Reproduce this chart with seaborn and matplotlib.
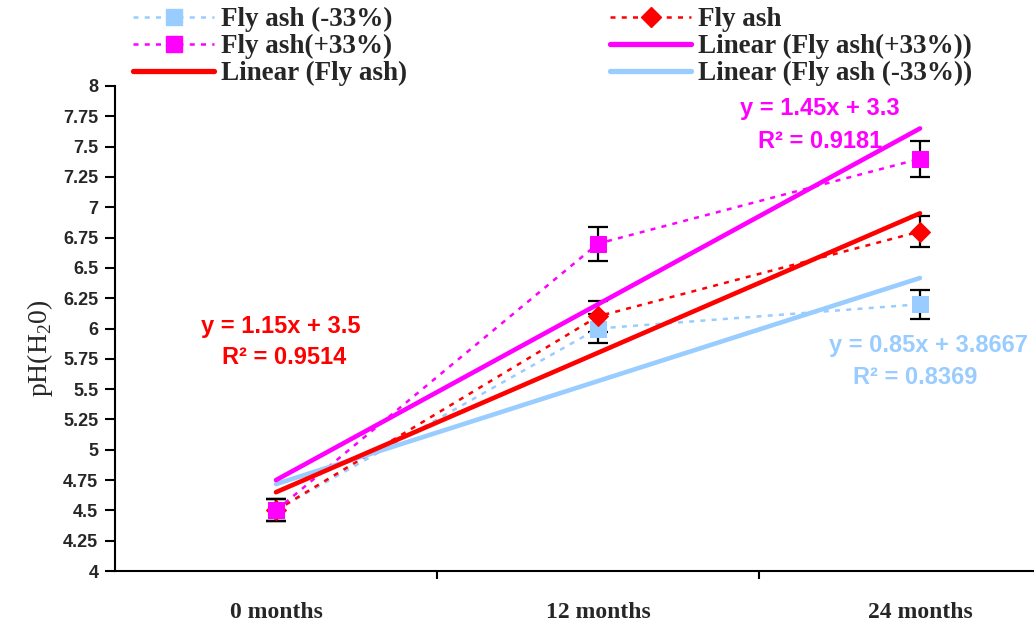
import numpy as np
import matplotlib
matplotlib.use("Agg")
import matplotlib.pyplot as plt
from matplotlib.lines import Line2D
import seaborn as sns

# ---- data ----
categories = ["0 months", "12 months", "24 months"]
fa_minus = [4.5, 6.0, 6.2]
fa_minus_err = [0.09, 0.12, 0.12]
fa = [4.5, 6.1, 6.8]
fa_err = [0.09, 0.13, 0.13]
fa_plus = [4.5, 6.7, 7.4]
fa_plus_err = [0.09, 0.14, 0.15]
y_ticks = [4, 4.25, 4.5, 4.75, 5, 5.25, 5.5, 5.75, 6, 6.25, 6.5, 6.75, 7, 7.25, 7.5, 7.75, 8]

eq_red = ["y = 1.15x + 3.5", "R\u00b2 = 0.9514"]
eq_mag = ["y = 1.45x + 3.3", "R\u00b2 = 0.9181"]
eq_blue = ["y = 0.85x + 3.8667", "R\u00b2 = 0.8369"]

C_BLUE = "#99CCFF"
C_RED = "#FF0000"
C_MAG = "#FF00FF"

sns.set_theme(style="white")
plt.rcParams["mathtext.fontset"] = "custom"
plt.rcParams["mathtext.rm"] = "Liberation Serif"

fig = plt.figure(figsize=(10.34, 6.23), dpi=100)
W, H = 1034, 623
ax = fig.add_axes([115 / W, 1 - 571 / H, (1081 - 115) / W, (571 - 86) / H])

xpos = np.arange(len(categories))
dot = (0, (2, 2.5))

series = [
    (fa_minus, fa_minus_err, C_BLUE, "s", 11),
    (fa, fa_err, C_RED, "D", 10),
    (fa_plus, fa_plus_err, C_MAG, "s", 11),
]

for vals, err, col, mk, ms in series:
    ax.errorbar(xpos, vals, yerr=err, fmt="none", ecolor="black",
                elinewidth=1.6, capsize=7, capthick=1.6, zorder=2)

for vals, err, col, mk, ms in series:
    sns.lineplot(x=xpos, y=vals, ax=ax, color=col, marker=mk, markersize=ms,
                 markeredgecolor=col, linestyle=dot, linewidth=1.8,
                 legend=False, zorder=3)

for vals, col in [(fa_minus, C_BLUE), (fa, C_RED), (fa_plus, C_MAG)]:
    sns.regplot(x=xpos, y=np.array(vals), ax=ax, scatter=False, ci=None,
                truncate=True, color=col, line_kws=dict(linewidth=3.3, zorder=4))

ax.set_xlim(-0.5, 2.5)
ax.set_ylim(4, 8)
ax.set_yticks(y_ticks)
ax.set_yticklabels([f"{v:g}" for v in y_ticks], fontfamily="Liberation Sans",
                   fontweight="bold", fontsize=13)
ax.tick_params(axis="y", direction="out", length=7, width=1.5, color="black",
               left=True, pad=5)

# category boundaries as tick marks; labels centered
ax.set_xticks([0.5, 1.5])
ax.set_xticklabels([])
ax.set_xticks(xpos, minor=True)
ax.set_xticklabels(categories, minor=True, fontfamily="Liberation Serif",
                   fontweight="bold", fontsize=17)
ax.tick_params(axis="x", which="major", direction="out", length=6, width=1.5,
               color="black", bottom=True)
ax.tick_params(axis="x", which="minor", length=0, pad=22)

for s in ["top", "right"]:
    ax.spines[s].set_visible(False)
for s in ["left", "bottom"]:
    ax.spines[s].set_color("black")
    ax.spines[s].set_linewidth(1.5)
ax.set_xlabel("")
ax.set_ylabel("")
ax.grid(False)

fig.text(40 / W, 1 - 348 / H, r"pH(H$_\mathrm{2}$0)", rotation=90,
         fontfamily="Liberation Serif", fontsize=20, ha="center", va="center")


def px2data(px, py):
    return (px - 115) / 322 - 0.5, 8 - (py - 86) / 121.25


ann_kw = dict(fontfamily="Liberation Sans", fontweight="bold", fontsize=17,
              ha="center", va="center", zorder=6)
for (lines, col, p1, p2) in [
    (eq_red, C_RED, (281, 326), (284, 358)),
    (eq_mag, C_MAG, (820, 108), (820, 142)),
    (eq_blue, C_BLUE, (928, 346), (915, 378)),
]:
    ax.text(*px2data(*p1), lines[0], color=col, **ann_kw)
    ax.text(*px2data(*p2), lines[1], color=col, **ann_kw)

# legends (two columns)
h_blue = Line2D([], [], color=C_BLUE, linestyle=dot, linewidth=1.8, marker="s",
                markersize=11, markeredgecolor=C_BLUE)
h_red = Line2D([], [], color=C_RED, linestyle=dot, linewidth=1.8, marker="D",
               markersize=10, markeredgecolor=C_RED)
h_mag = Line2D([], [], color=C_MAG, linestyle=dot, linewidth=1.8, marker="s",
               markersize=11, markeredgecolor=C_MAG)
l_red = Line2D([], [], color=C_RED, linewidth=3.8)
l_mag = Line2D([], [], color=C_MAG, linewidth=3.8)
l_blue = Line2D([], [], color=C_BLUE, linewidth=3.8)

leg_kw = dict(loc="upper left", frameon=False, numpoints=1, handlelength=3.0,
              handletextpad=0.26, labelspacing=0.07, borderpad=0, borderaxespad=0,
              prop=dict(family="Liberation Serif", weight="bold", size=19.5))
leg1 = fig.legend([h_blue, h_mag, l_red],
                  ["Fly ash (-33%)", "Fly ash(+33%)", "Linear (Fly ash)"],
                  bbox_to_anchor=(133 / W, 1 - 7 / H), **leg_kw)
leg2 = fig.legend([h_red, l_mag, l_blue],
                  ["Fly ash", "Linear (Fly ash(+33%))", "Linear (Fly ash (-33%))"],
                  bbox_to_anchor=(610 / W, 1 - 7 / H), **leg_kw)

fig.savefig("out.png", dpi=100)
